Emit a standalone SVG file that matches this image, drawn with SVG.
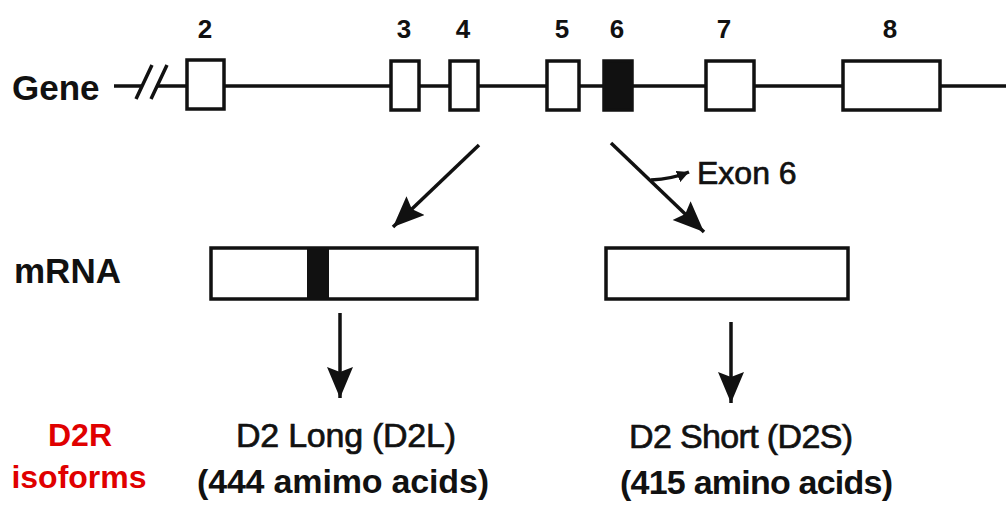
<svg xmlns="http://www.w3.org/2000/svg" width="1006" height="505" viewBox="0 0 1006 505">
<style>
.lbl{font-family:"Liberation Sans",Arial,sans-serif;fill:#111}
.reg{stroke:#111;stroke-width:0.7}
.b{font-weight:bold}
.num{font-family:"Liberation Sans",Arial,sans-serif;font-weight:bold;font-size:26px;fill:#111;text-anchor:middle}
.exon{fill:#fff;stroke:#111;stroke-width:3.5}
.exonk{fill:#111;stroke:#111;stroke-width:3.5}
.line{stroke:#111;stroke-width:3.5;fill:none}
.red{font-family:"Liberation Sans",Arial,sans-serif;font-weight:bold;fill:#e00000;font-size:32px;text-anchor:middle}
</style>
<defs>
<marker id="ah" markerUnits="userSpaceOnUse" markerWidth="34" markerHeight="28" refX="31" refY="13" orient="auto">
<path d="M0,0 L31,13 L0,26 L5,13 z" fill="#111"/>
</marker>
<marker id="ahs" markerUnits="userSpaceOnUse" markerWidth="14" markerHeight="12" refX="12" refY="6" orient="auto">
<path d="M0,0 L12,6 L0,12 z" fill="#111"/>
</marker>
</defs>
<rect width="1006" height="505" fill="#fff"/>

<g id="gene">
<text class="lbl b" x="12" y="100" font-size="35">Gene</text>
<path class="line" d="M114,86 H142 M156,86 H188 M224,86 H1006"/>
<path class="line" d="M136,99 L152,65 M151,99 L167,65" stroke-width="3"/>
</g>
<g id="exon2"><rect class="exon" x="187" y="60" width="37" height="49"/><text class="num" x="205" y="38">2</text></g>
<g id="exon3"><rect class="exon" x="391" y="61" width="28" height="49"/><text class="num" x="404" y="38">3</text></g>
<g id="exon4"><rect class="exon" x="450" y="61" width="28" height="49"/><text class="num" x="463" y="38">4</text></g>
<g id="exon5"><rect class="exon" x="547" y="61" width="32" height="49"/><text class="num" x="562" y="38">5</text></g>
<g id="exon6"><rect class="exonk" x="604" y="61" width="28" height="49"/><text class="num" x="617" y="38">6</text></g>
<g id="exon7"><rect class="exon" x="706" y="61" width="48" height="49"/><text class="num" x="724" y="38">7</text></g>
<g id="exon8"><rect class="exon" x="843" y="61" width="97" height="49"/><text class="num" x="890" y="38">8</text></g>

<g id="mrna-label"><text class="lbl b" x="14" y="283" font-size="35">mRNA</text></g>
<g id="mrna-long">
<rect class="exon" x="211" y="248" width="266" height="51"/>
<rect fill="#111" x="307" y="248" width="22" height="51"/>
</g>
<g id="mrna-short"><rect class="exon" x="606" y="248" width="242" height="51"/></g>

<g id="connectors">
<path class="line" d="M479,145 L393,227" marker-end="url(#ah)"/>
<path class="line" d="M611,143 L704,232" marker-end="url(#ah)"/>
<path class="line" d="M651,180 Q672,179 689,172" stroke-width="3" marker-end="url(#ahs)"/>
<path class="line" d="M340,313 V398" marker-end="url(#ah)"/>
<path class="line" d="M731,322 V403" marker-end="url(#ah)"/>
</g>
<g id="exon6-label"><text class="lbl reg" x="697" y="184" font-size="32">Exon 6</text></g>

<g id="d2l">
<text class="lbl reg" x="236" y="447" font-size="34" textLength="220">D2 Long (D2L)</text>
<text class="lbl b" x="197" y="493" font-size="34" textLength="292">(444 amimo acids)</text>
</g>
<g id="d2s">
<text class="lbl reg" x="629" y="448" font-size="34" textLength="224">D2 Short (D2S)</text>
<text class="lbl b" x="620" y="494" font-size="34" textLength="273">(415 amino acids)</text>
</g>
<g id="isoforms">
<text class="red" x="80" y="446">D2R</text>
<text class="red" x="79" y="488">isoforms</text>
</g>
</svg>
